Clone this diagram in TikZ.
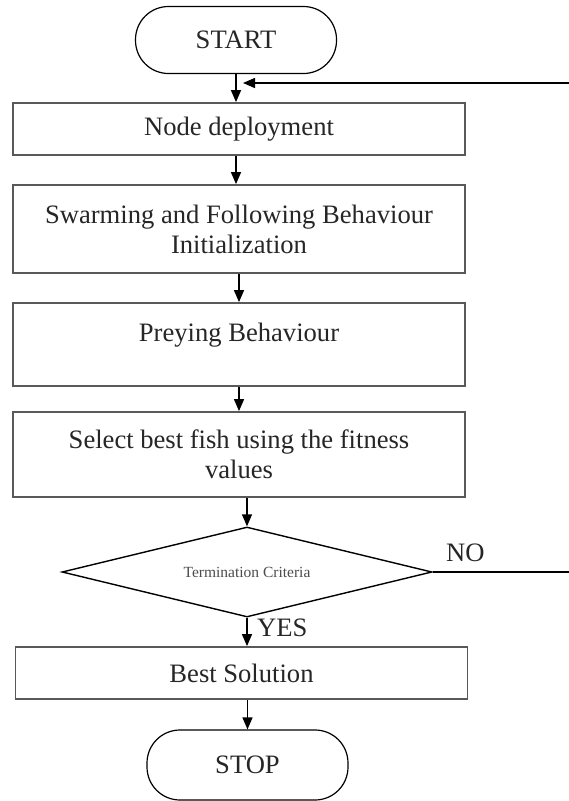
\documentclass[tikz,border=0pt]{standalone}
\usepackage{fontspec}
\setmainfont{Liberation Serif}
\usetikzlibrary{shapes.geometric,arrows.meta}
\begin{document}
\begin{tikzpicture}[x=1pt,y=-1pt,
  txt/.style={text=black!85,font=\fontsize{26.6}{30}\selectfont},
  box/.style={txt,draw=black!65,line width=1.8pt,rectangle,minimum width=452pt,align=center,inner sep=0pt},
  term/.style={txt,draw=black,line width=1.2pt,rectangle,rounded corners=33pt,minimum width=201pt,minimum height=67pt,inner sep=0pt},
  decision/.style={diamond,aspect=4.1,draw=black,line width=1.4pt,minimum width=370pt,minimum height=90pt,inner sep=0pt,text=black!70,font=\fontsize{15.5}{18}\selectfont},
  arr/.style={-{Triangle[length=12pt,width=10pt]},line width=1.4pt,draw=black},
  plain/.style={line width=1.4pt,draw=black}]
\useasboundingbox (0,0) rectangle (569,801);
\fill[white] (0,0) rectangle (569,801);

\node[term] (start) at (236,40) {START};
\node[box,minimum height=52pt] (deploy) at (239,129) {Node deployment};
\node[box,minimum height=88pt] (swarm) at (239,229) {Swarming and Following Behaviour\\Initialization};
\node[box,minimum height=83pt,text depth=24pt] (prey) at (239,344.5) {Preying Behaviour};
\node[box,minimum height=85pt] (select) at (239,454.5) {Select best fish using the fitness\\values};
\node[decision] (crit) at (247,572) {Termination Criteria};
\node[box,minimum height=52pt] (best) at (241.5,673) {Best Solution};
\node[term,minimum height=70pt] (stop) at (247.5,765) {STOP};

\coordinate (noEnd) at (569,572);
\coordinate (backStart) at (569,83);
\coordinate (backTip) at (243,83);

\draw[arr] (start.south) -- (start.south |- deploy.north);
\draw[arr] (deploy.south -| start.south) -- (start.south |- swarm.north);
\draw[arr] (swarm.south) -- (prey.north);
\draw[arr] (prey.south) -- (select.north);
\draw[arr] (select.south -| crit.north) -- (crit.north);
\draw[arr] (crit.south) -- (crit.south |- best.north);
\draw[arr] (best.south -| stop.north) -- (stop.north);

\draw[plain] (crit.east) -- (noEnd);
\draw[arr] (backStart) -- (backTip);

\node[txt,anchor=base west,inner sep=0pt] (nolbl) at (446,561) {NO};
\node[txt,anchor=base west,inner sep=0pt] (yeslbl) at (257,636) {YES};
\end{tikzpicture}
\end{document}
